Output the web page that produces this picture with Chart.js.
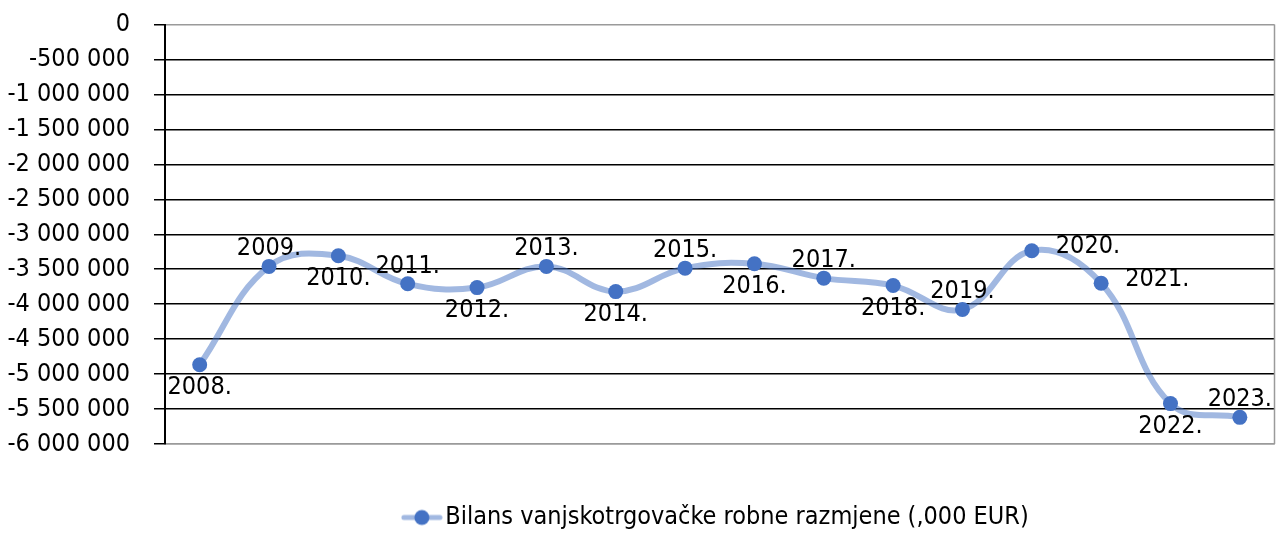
<!DOCTYPE html>
<html>
<head>
<meta charset="utf-8">
<script src="https://cdn.jsdelivr.net/npm/chart.js@4/dist/chart.umd.min.js"></script>
<style>
  html, body { margin: 0; padding: 0; background: #fff; }
  #wrap { width: 1282px; height: 534px; }
</style>
</head>
<body>
<div id="wrap"><canvas id="c"></canvas></div>
<script>
// ── Data ──────────────────────────────────────────────────────
const years = ['2008.', '2009.', '2010.', '2011.', '2012.', '2013.', '2014.', '2015.',
  '2016.', '2017.', '2018.', '2019.', '2020.', '2021.', '2022.', '2023.'];
const balance = [-4866000, -3460000, -3307000, -3709000, -3763000, -3460000, -3820000, -3485000,
  -3422000, -3628000, -3734000, -4075000, -3235000, -3700000, -5422000, -5619000];
const seriesName = 'Bilans vanjskotrgovačke robne razmjene (,000 EUR)';

// where each year label sits relative to its point
const labelPos = ['below', 'above', 'below', 'above', 'below', 'above', 'below', 'above',
  'below', 'above', 'below', 'above', 'right', 'right', 'below', 'above'];

const FONT = "'DejaVu Sans Condensed', sans-serif";
const FSIZE = 25;
const LINE = 'rgba(68,114,196,0.5)';
const DOT = '#4472C4';

const fmt = v => (v < 0 ? '-' : '') + Math.abs(v).toString().replace(/\B(?=(\d{3})+(?!\d))/g, ' ');

// ── Legend marker (line + dot) ────────────────────────────────
const marker = document.createElement('canvas');
marker.width = 42; marker.height = 18;
(() => {
  const m = marker.getContext('2d');
  m.strokeStyle = LINE; m.lineWidth = 5; m.lineCap = 'round';
  m.beginPath(); m.moveTo(3, 9); m.lineTo(39, 9); m.stroke();
  m.fillStyle = DOT;
  m.beginPath(); m.arc(21, 9, 7.5, 0, Math.PI * 2); m.fill();
})();

// ── Year labels next to points ────────────────────────────────
const yearLabels = {
  id: 'yearLabels',
  afterDatasetsDraw(chart) {
    const { ctx } = chart;
    const pts = chart.getDatasetMeta(0).data;
    ctx.save();
    ctx.font = `${FSIZE}px ${FONT}`;
    ctx.fillStyle = '#000';
    pts.forEach((p, i) => {
      const pos = labelPos[i];
      if (pos === 'above') {
        ctx.textAlign = 'center'; ctx.textBaseline = 'bottom';
        ctx.fillText(years[i], p.x, p.y - 5);
      } else if (pos === 'below') {
        ctx.textAlign = 'center'; ctx.textBaseline = 'top';
        ctx.fillText(years[i], p.x, p.y + 10);
      } else {
        ctx.textAlign = 'left'; ctx.textBaseline = 'middle';
        ctx.fillText(years[i], p.x + 24, p.y - 4);
      }
    });
    ctx.restore();
  }
};

// ── Grey frame on the right side of plot ──────────────────────
const frame = {
  id: 'frame',
  beforeDatasetsDraw(chart) {
    const { ctx, chartArea: a } = chart;
    ctx.save();
    ctx.strokeStyle = '#9a9a9a';
    ctx.lineWidth = 1.5;
    ctx.beginPath();
    ctx.moveTo(a.right, a.top); ctx.lineTo(a.right, a.bottom);
    ctx.stroke();
    ctx.restore();
  }
};

new Chart(document.getElementById('c'), {
  type: 'line',
  data: {
    labels: years,
    datasets: [{
      label: seriesName,
      data: balance,
      borderColor: LINE,
      borderWidth: 6,
      tension: 0.4,
      pointRadius: 7.5,
      pointBorderWidth: 0,
      pointBackgroundColor: DOT,
      pointBorderColor: DOT,
      fill: false,
    }]
  },
  options: {
    responsive: true,
    maintainAspectRatio: false,
    animation: false,
    layout: { padding: { top: 0, right: 6, left: 0, bottom: -6 } },
    plugins: {
      tooltip: { enabled: false },
      legend: {
        position: 'bottom',
        fullSize: false,
        labels: {
          color: '#000',
          font: { size: FSIZE, family: FONT },
          usePointStyle: true,
          pointStyle: marker,
          pointStyleWidth: 22,
          boxHeight: 18,
          padding: 1,
        }
      }
    },
    scales: {
      x: {
        offset: true,
        grid: { display: false },
        border: { color: '#9a9a9a', width: 1.5 },
        ticks: { display: false },
        afterFit: s => { s.height = 60; }
      },
      y: {
        min: -6000000,
        max: 0,
        afterFit: s => { s.width = 165; s.paddingTop = 24.5; s.paddingBottom = 0; },
        border: { color: '#000', width: 2 },
        grid: {
          color: c => (c.tick.value === 0 || c.tick.value === -6000000) ? '#9a9a9a' : '#000',
          lineWidth: 1.5,
          tickColor: '#000',
          tickLength: 11,
        },
        ticks: {
          stepSize: 500000,
          autoSkip: false,
          color: '#000',
          padding: 24,
          font: { size: FSIZE, family: FONT },
          callback: v => fmt(v),
        }
      }
    }
  },
  plugins: [yearLabels, frame]
});
</script>
</body>
</html>
